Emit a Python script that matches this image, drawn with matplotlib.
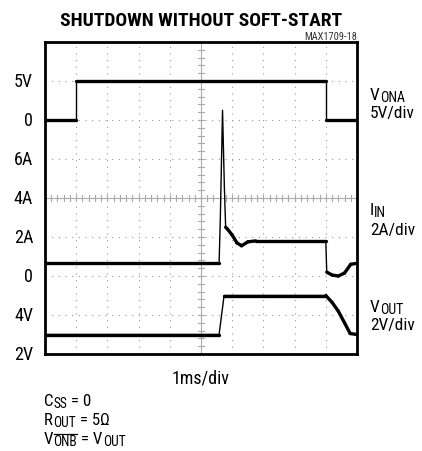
import numpy as np
import matplotlib
matplotlib.use("Agg")
from matplotlib import pyplot as plt
from matplotlib.lines import Line2D

plt.rcParams['font.family'] = ['Roboto Condensed', 'DejaVu Sans']

W, H = 422, 452

# scope traces (time in ms)
t_ona = [0, 1.0, 1.0, 9.0, 9.0, 10]
v_ona = [0, 0, 5, 5, 0, 0]  # V

t_iin = [0, 5.58, 5.62, 5.69, 5.75, 5.79, 5.85, 6.0, 6.15, 6.3, 6.5, 6.75, 9.0, 9.03,
         9.2, 9.4, 9.6, 9.8, 10]
i_in = [0.65, 0.65, 3.0, 8.5, 4.5, 2.5, 2.4, 2.1, 1.7, 1.55, 1.75, 1.8, 1.8, 0.2,
        0.05, 0.0, 0.15, 0.6, 0.65]  # A

t_out = [0, 5.58, 5.74, 9.0, 9.2, 9.4, 9.6, 9.78, 10]
v_out = [3.0, 3.0, 5.0, 5.0, 4.65, 4.2, 3.6, 3.05, 3.0]  # V

# channel offsets / scales in divisions
ona_zero, ona_scale = 6, 5.0
iin_zero, iin_scale = 2, 2.0
out_zero, out_scale = -1, 2.0

left_labels = ['2V', '4V', '0', '2A', '4A', '6A', '0', '5V']

fig = plt.figure(figsize=(W / 100, H / 100), dpi=100)
ax = fig.add_axes([45 / W, 1 - 355 / H, 312 / W, 312 / H])
ax.set_xlim(0, 10)
ax.set_ylim(0, 8)

# dotted grid
for k in range(1, 10):
    if k != 5:
        ax.axvline(k, color='#999999', lw=0.8, ls=(0, (1, 5)))
for k in range(1, 8):
    if k != 4:
        ax.axhline(k, color='#999999', lw=0.8, ls=(0, (1, 5)))
# center lines with small ticks
ax.axvline(5, color='#aaaaaa', lw=0.8)
ax.axhline(4, color='#aaaaaa', lw=0.8)
for v in np.arange(0.2, 10, 0.2):
    ax.plot([v, v], [3.93, 4.07], color='#aaaaaa', lw=0.8)
for v in np.arange(0.2, 8, 0.2):
    ax.plot([4.9, 5.1], [v, v], color='#aaaaaa', lw=0.8)


def trace(t, y):
    # fast edges come out thin on the scope, slow parts thick
    ax.plot(t, y, color='black', lw=1.0)
    for i in range(len(t) - 1):
        dt = t[i + 1] - t[i]
        if dt > 0 and abs(y[i + 1] - y[i]) / dt < 4:
            ax.plot(t[i:i + 2], y[i:i + 2], color='black', lw=2.4, solid_capstyle='round')


trace(t_ona, [ona_zero + v / ona_scale for v in v_ona])
trace(t_iin, [iin_zero + i / iin_scale for i in i_in])
trace(t_out, [out_zero + v / out_scale for v in v_out])

ax.set_xticks([])
ax.set_yticks([])
for s in ax.spines.values():
    s.set_linewidth(2)

for k, lab in enumerate(left_labels):
    ax.text(-0.38, k, lab, ha='right', va='center', fontsize=13)

fig.text(201 / W, 1 - 26 / H, 'SHUTDOWN WITHOUT SOFT-START', ha='center', va='baseline',
         fontsize=14, fontweight='bold')
fig.text(357 / W, 1 - 40 / H, 'MAX1709-18', ha='right', va='baseline', fontsize=7.5,
         color='#333333')

renderer = fig.canvas.get_renderer()


def rich(x, y, parts, size=12.5):
    # x, y in pixels from top-left, y is the baseline; parts: (text, kind)
    for s, kind in parts:
        fs = size if kind == 'n' else size * 0.8
        yy = y if kind == 'n' else y + 2.5
        t = fig.text(x / W, 1 - yy / H, s, ha='left', va='baseline', fontsize=fs)
        bb = t.get_window_extent(renderer)
        if kind == 'so':
            top = (H - yy) + fs * 100 / 72 * 0.711 + 1.5
            fig.add_artist(Line2D([bb.x0 / W, bb.x1 / W], [top / H, top / H],
                                  color='black', lw=0.9, transform=fig.transFigure))
        x += bb.width


rich(370, 100, [('V', 'n'), ('ONA', 's')])
rich(370, 118, [('5V/div', 'n')])
rich(370, 215, [('I', 'n'), ('IN', 's')])
rich(370, 235, [('2A/div', 'n')])
rich(370, 312, [('V', 'n'), ('OUT', 's')])
rich(370, 330, [('2V/div', 'n')])

fig.text(201 / W, 1 - 384 / H, '1ms/div', ha='center', va='baseline', fontsize=13)
rich(44, 406, [('C', 'n'), ('SS', 's'), (' = 0', 'n')], 12.2)
rich(44, 425, [('R', 'n'), ('OUT', 's'), (' = 5Ω', 'n')], 12.2)
rich(44, 444, [('V', 'n'), ('ONB', 'so'), (' = V', 'n'), ('OUT', 's')], 12.2)

fig.savefig('out.png', dpi=100)
